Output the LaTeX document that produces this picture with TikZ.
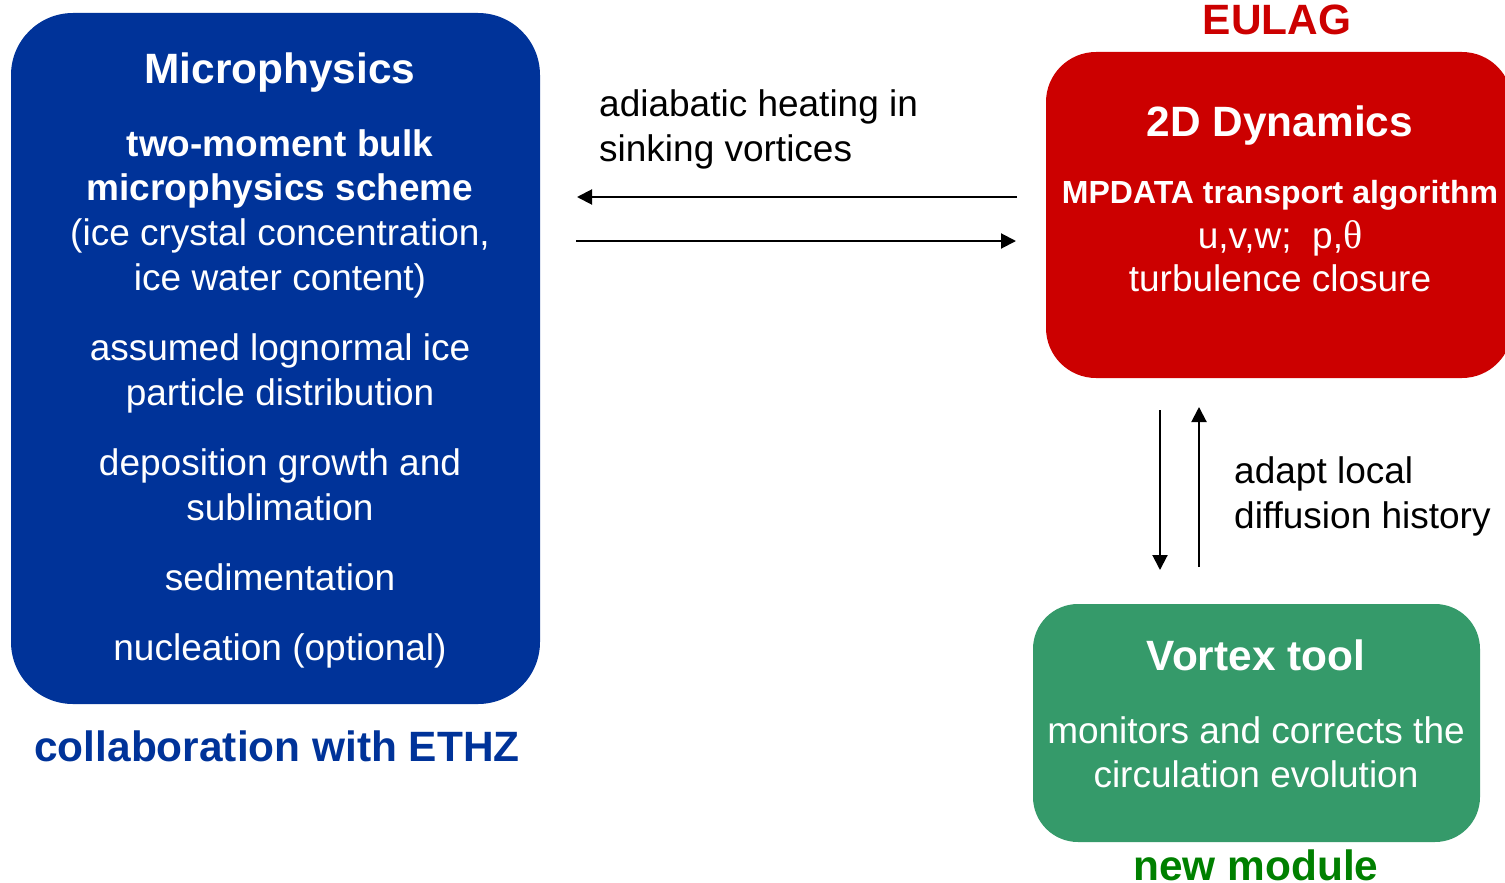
\documentclass[tikz,border=0pt]{standalone}
\usepackage{fontspec}
\setmainfont{Liberation Sans}
\newfontfamily\greekserif{Liberation Serif}
\usetikzlibrary{arrows.meta}
\definecolor{mblue}{RGB}{0,51,153}
\definecolor{mred}{RGB}{204,0,0}
\definecolor{mgreen}{RGB}{53,154,106}
\definecolor{dgreen}{RGB}{0,128,0}
\tikzset{
  box/.style={draw=none, inner sep=0pt},
  big/.style={inner sep=0pt, anchor=base, font=\fontsize{42.4}{50}\selectfont\bfseries},
  mid/.style={inner sep=0pt, anchor=base, font=\fontsize{37}{44}\selectfont},
  midb/.style={inner sep=0pt, anchor=base, font=\fontsize{37}{44}\selectfont\bfseries},
  smb/.style={inner sep=0pt, anchor=base, font=\fontsize{32}{38}\selectfont\bfseries},
  wtxt/.style={text=white},
  conn/.style={line width=2pt, -{Triangle[length=15pt,width=15pt]}},
}
\begin{document}
\begin{tikzpicture}[x=1pt,y=-1pt]
\useasboundingbox (0,0) rectangle (1505,883);
% boxes
\node[box, fill=mblue, minimum width=529pt, minimum height=691pt, rounded corners=62pt] (micro) at (275.5,358.5) {};
\node[box, fill=mred, minimum width=466pt, minimum height=326pt, rounded corners=50pt] (dyn) at (1279,215) {};
\node[box, fill=mgreen, minimum width=447pt, minimum height=238pt, rounded corners=45pt] (vortex) at (1256.5,723) {};
% microphysics text
\node[big, wtxt] (m1) at (280,84) {Microphysics};
\node[midb, wtxt] (m2) at (280,156) {two-moment bulk};
\node[midb, wtxt] (m3) at (280,200) {microphysics scheme};
\node[mid, wtxt] (m4) at (280,245) {(ice crystal concentration,};
\node[mid, wtxt] (m5) at (280,290) {ice water content)};
\node[mid, wtxt] (m6) at (280,360) {assumed lognormal ice};
\node[mid, wtxt] (m7) at (280,405) {particle distribution};
\node[mid, wtxt] (m8) at (280,475) {deposition growth and};
\node[mid, wtxt] (m9) at (280,520) {sublimation};
\node[mid, wtxt] (m10) at (280,590) {sedimentation};
\node[mid, wtxt] (m11) at (280,660) {nucleation (optional)};
\node[big, text=mblue] (ethz) at (277,761) {collaboration with ETHZ};
% dynamics text
\node[big, text=mred] (eulag) at (1277,35) {EULAG};
\node[big, wtxt] (d1) at (1280,136) {2D Dynamics};
\node[smb, wtxt] (d2) at (1280,203) {MPDATA transport algorithm};
\node[mid, wtxt] (d3) at (1280,248) {u,v,w;\ \ p,{\greekserif\fontsize{40}{44}\selectfont θ}};
\node[mid, wtxt] (d4) at (1280,291) {turbulence closure};
% vortex text
\node[big, wtxt] (v1) at (1256,670) {Vortex tool};
\node[mid, wtxt] (v2) at (1256,743) {monitors and corrects the};
\node[mid, wtxt] (v3) at (1256,787) {circulation evolution};
\node[big, text=dgreen] (newm) at (1256,880) {new module};
% labels
\node[mid, anchor=base west] (l1) at (599,117) {adiabatic heating in};
\node[mid, anchor=base west] (l2) at (599,161) {sinking vortices};
\node[mid, anchor=base west] (l3) at (1234,483) {adapt local};
\node[mid, anchor=base west] (l4) at (1234,528) {diffusion history};
% connectors
\coordinate (a1s) at (1017,197);
\coordinate (a1e) at (577,197);
\coordinate (a2s) at (576,241);
\coordinate (a2e) at (1016,241);
\coordinate (a3s) at (1160,410);
\coordinate (a3e) at (1160,570);
\coordinate (a4s) at (1199,567);
\coordinate (a4e) at (1199,407);
\draw[conn] (a1s) -- (a1e);
\draw[conn] (a2s) -- (a2e);
\draw[conn] (a3s) -- (a3e);
\draw[conn] (a4s) -- (a4e);
\end{tikzpicture}
\end{document}
